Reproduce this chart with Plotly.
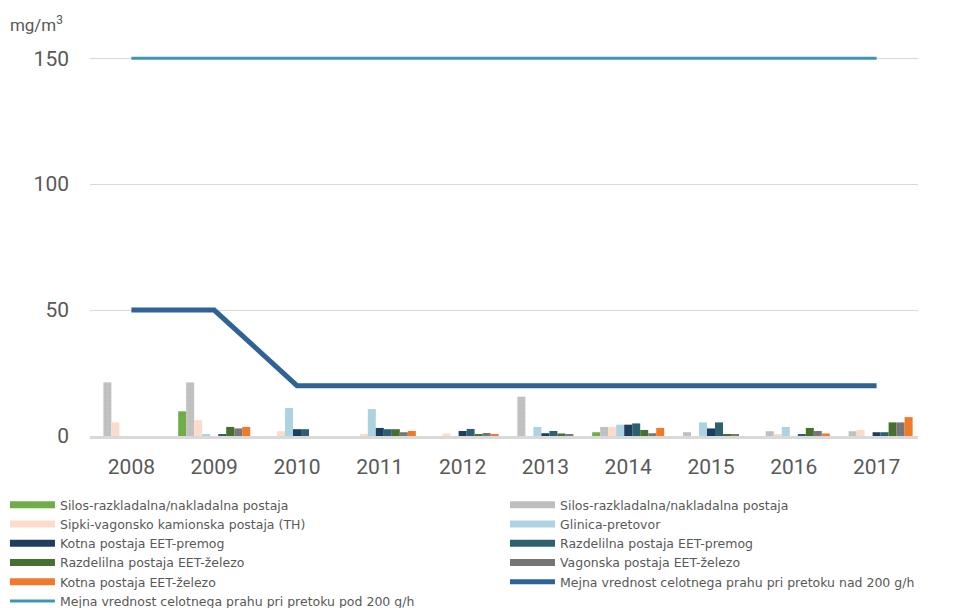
import plotly.graph_objects as go

years = [str(y) for y in range(2008, 2018)]

silos_green = [0, 9.8, 0, 0, 0, 0, 1.5, 0, 0, 0]
silos_gray = [21.3, 21.3, 0, 0, 0, 15.6, 3.6, 1.5, 1.9, 1.9]
sipki = [5.4, 6.3, 1.9, 0.4, 1.0, 0, 3.6, 0, 0.4, 2.4]
glinica = [0, 0.5, 11.1, 10.7, 0, 3.6, 4.5, 5.4, 3.6, 0]
kotna_premog = [0, 0, 2.7, 3.2, 2.0, 1.1, 4.5, 3.0, 0, 1.5]
razd_premog = [0, 0.5, 2.7, 2.7, 2.8, 2.0, 5.0, 5.4, 0.4, 1.5]
razd_zelezo = [0, 3.6, 0, 2.7, 0.4, 1.0, 2.4, 0.4, 3.2, 5.4]
vagonska = [0, 3.0, 0, 1.5, 1.2, 0.5, 1.1, 0.4, 2.0, 5.4]
kotna_zelezo = [0, 3.6, 0, 2.0, 0.5, 0, 3.2, 0, 1.0, 7.5]
limit_nad = [50, 50, 20, 20, 20, 20, 20, 20, 20, 20]
limit_pod = [150, 150, 150, 150, 150, 150, 150, 150, 150, 150]

bar_series = [
    ("Silos-razkladalna/nakladalna postaja", silos_green, "#70ad47", "legend", None),
    ("Silos-razkladalna/nakladalna postaja", silos_gray, "#bfbfbf", "legend2", "#cdcdcd"),
    ("Sipki-vagonsko kamionska postaja (TH)", sipki, "#fbdcca", "legend", None),
    ("Glinica-pretovor", glinica, "#add3e0", "legend2", None),
    ("Kotna postaja EET-premog", kotna_premog, "#1f3e5f", "legend", None),
    ("Razdelilna postaja EET-premog", razd_premog, "#2e6170", "legend2", None),
    ("Razdelilna postaja EET-železo", razd_zelezo, "#476f30", "legend", None),
    ("Vagonska postaja EET-železo", vagonska, "#757575", "legend2", "#868686"),
    ("Kotna postaja EET-železo", kotna_zelezo, "#ee7a2a", "legend", None),
]

fig = go.Figure()
for name, vals, col, lg, dots in bar_series:
    marker = dict(color=col, line=dict(width=0))
    if dots:
        marker["pattern"] = dict(shape=".", fgcolor=dots, bgcolor=col, size=4, solidity=0.2)
    fig.add_trace(go.Bar(x=years, y=vals, name=name, marker=marker, showlegend=False))

for name, vals, col, lg, dots in bar_series:
    fig.add_trace(go.Scatter(x=[None], y=[None], mode="lines", name=name,
                             line=dict(color=col, width=7), legend=lg))

fig.add_trace(go.Scatter(x=years, y=limit_nad, mode="lines",
                         name="Mejna vrednost celotnega prahu pri pretoku nad 200 g/h",
                         line=dict(color="#2f6396", width=5), legend="legend2"))
fig.add_trace(go.Scatter(x=years, y=limit_pod, mode="lines",
                         name="Mejna vrednost celotnega prahu pri pretoku pod 200 g/h",
                         line=dict(color="#3c97b6", width=3), legend="legend"))

tickfont = dict(family="Roboto, sans-serif", size=21, color="#595959")
legfont = dict(family="DejaVu Sans, sans-serif", size=12.5, color="#595959")

fig.update_layout(
    width=958, height=600,
    margin=dict(l=82, r=48, t=25, b=172, autoexpand=False),
    plot_bgcolor="white", paper_bgcolor="white",
    barmode="group", bargap=0.13, bargroupgap=0,
    title=dict(text="mg/m<sup>3</sup>", x=0.002, xref="container", xanchor="left",
               y=0.972, yref="container", yanchor="middle",
               font=dict(family="Roboto, sans-serif", size=17, color="#595959")),
    xaxis=dict(showgrid=False, showline=True, linecolor="#d9d9d9", linewidth=3,
               tickfont=tickfont, ticks="", ticklabelstandoff=10, automargin=False),
    yaxis=dict(range=[0, 160], tickvals=[0, 50, 100, 150], showgrid=True,
               gridcolor="#d9d9d9", gridwidth=1, zeroline=False, automargin=False,
               tickfont=tickfont, ticks="", ticklabelstandoff=20),
    legend=dict(orientation="v", x=-0.1027, xanchor="left", y=-0.134, yanchor="top",
                font=legfont, itemwidth=45, tracegroupgap=0, bgcolor="rgba(0,0,0,0)"),
    legend2=dict(orientation="v", x=0.5012, xanchor="left", y=-0.134, yanchor="top",
                 font=legfont, itemwidth=45, tracegroupgap=0, bgcolor="rgba(0,0,0,0)"),
)

fig.write_html("out.html")
